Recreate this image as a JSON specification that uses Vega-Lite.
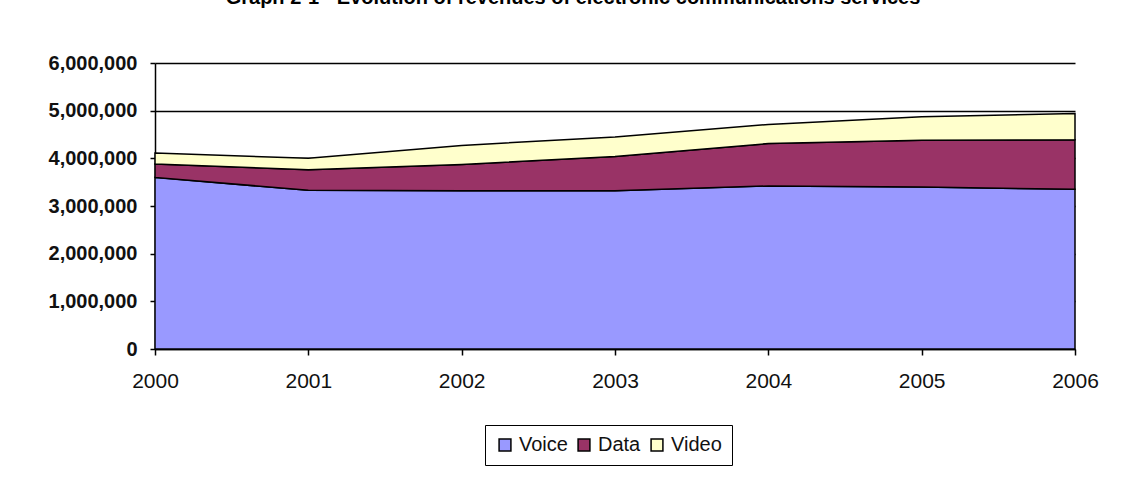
{
  "$schema": "https://vega.github.io/schema/vega-lite/v6.json",
  "autosize": "none",
  "padding": {"left": 155, "top": 63, "right": 49, "bottom": 133},
  "width": 920,
  "height": 286,
  "background": "white",
  "title": {
    "text": "Graph 2-1 - Evolution of revenues of electronic communications services",
    "frame": "group",
    "anchor": "middle",
    "offset": 45,
    "dx": -42,
    "font": "Liberation Sans",
    "fontSize": 20,
    "fontWeight": "bold",
    "color": "black"
  },
  "data": {
    "values": [
      {"year": 2000, "service": "Voice", "ord": 1, "revenue": 3600000},
      {"year": 2001, "service": "Voice", "ord": 1, "revenue": 3330000},
      {"year": 2002, "service": "Voice", "ord": 1, "revenue": 3320000},
      {"year": 2003, "service": "Voice", "ord": 1, "revenue": 3320000},
      {"year": 2004, "service": "Voice", "ord": 1, "revenue": 3420000},
      {"year": 2005, "service": "Voice", "ord": 1, "revenue": 3400000},
      {"year": 2006, "service": "Voice", "ord": 1, "revenue": 3350000},
      {"year": 2000, "service": "Data", "ord": 2, "revenue": 280000},
      {"year": 2001, "service": "Data", "ord": 2, "revenue": 430000},
      {"year": 2002, "service": "Data", "ord": 2, "revenue": 550000},
      {"year": 2003, "service": "Data", "ord": 2, "revenue": 720000},
      {"year": 2004, "service": "Data", "ord": 2, "revenue": 890000},
      {"year": 2005, "service": "Data", "ord": 2, "revenue": 980000},
      {"year": 2006, "service": "Data", "ord": 2, "revenue": 1040000},
      {"year": 2000, "service": "Video", "ord": 3, "revenue": 230000},
      {"year": 2001, "service": "Video", "ord": 3, "revenue": 240000},
      {"year": 2002, "service": "Video", "ord": 3, "revenue": 400000},
      {"year": 2003, "service": "Video", "ord": 3, "revenue": 410000},
      {"year": 2004, "service": "Video", "ord": 3, "revenue": 400000},
      {"year": 2005, "service": "Video", "ord": 3, "revenue": 490000},
      {"year": 2006, "service": "Video", "ord": 3, "revenue": 550000}
    ]
  },
  "mark": {"type": "area", "stroke": "black", "strokeWidth": 1.5, "opacity": 1},
  "encoding": {
    "x": {
      "field": "year",
      "type": "quantitative",
      "scale": {"domain": [2000, 2006], "nice": false, "zero": false},
      "axis": {
        "title": null,
        "values": [2000, 2001, 2002, 2003, 2004, 2005, 2006],
        "format": "d",
        "grid": false,
        "domainColor": "black",
        "domainWidth": 1.5,
        "tickColor": "black",
        "tickSize": 6,
        "tickWidth": 1.5,
        "labelFont": "Liberation Sans",
        "labelFontSize": 21,
        "labelColor": "#111111",
        "labelPadding": 15,
        "labelFlush": false
      }
    },
    "y": {
      "field": "revenue",
      "type": "quantitative",
      "stack": "zero",
      "scale": {"domain": [0, 6000000], "nice": false},
      "axis": {
        "title": null,
        "values": [0, 1000000, 2000000, 3000000, 4000000, 5000000, 6000000],
        "format": ",d",
        "grid": true,
        "gridColor": "black",
        "gridWidth": 1.5,
        "gridOpacity": 1,
        "domainColor": "black",
        "domainWidth": 1.5,
        "tickColor": "black",
        "tickSize": 5,
        "tickWidth": 1.5,
        "labelFont": "Liberation Sans",
        "labelFontSize": 20,
        "labelFontWeight": "bold",
        "labelColor": "#111111",
        "labelPadding": 13
      }
    },
    "color": {
      "field": "service",
      "type": "nominal",
      "scale": {"domain": ["Voice", "Data", "Video"], "range": ["#9999FF", "#993366", "#FFFFCC"]},
      "legend": {
        "title": null,
        "orient": "none",
        "legendX": 330,
        "legendY": 362,
        "direction": "horizontal",
        "strokeColor": "black",
        "padding": 10,
        "symbolType": "square",
        "symbolSize": 140,
        "symbolStrokeColor": "black",
        "symbolStrokeWidth": 1.5,
        "symbolOpacity": 1,
        "labelFont": "Liberation Sans",
        "labelFontSize": 20,
        "labelColor": "#111111",
        "labelOffset": 4,
        "columnPadding": 6
      }
    },
    "order": {"field": "ord", "type": "quantitative"}
  },
  "config": {
    "view": {"stroke": null}
  }
}
